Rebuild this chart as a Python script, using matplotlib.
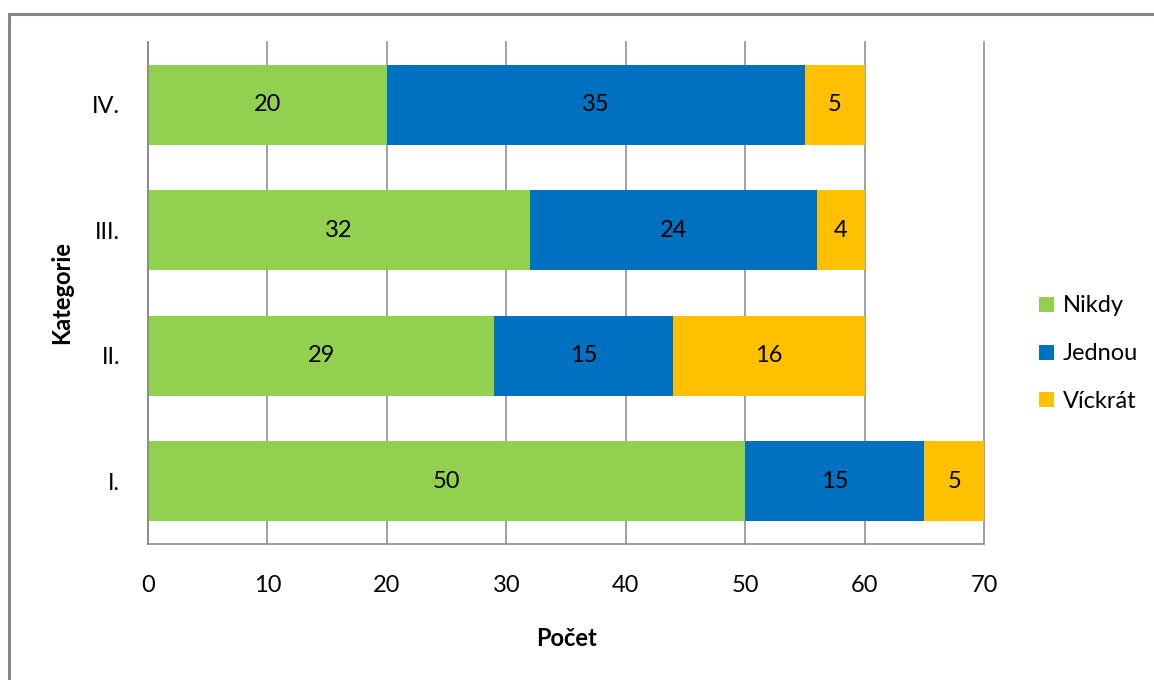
import matplotlib
matplotlib.use("Agg")
import matplotlib.pyplot as plt
from matplotlib.patches import Rectangle, Patch

plt.rcParams['font.family'] = ['Lato', 'DejaVu Sans']

categories = ["I.", "II.", "III.", "IV."]
nikdy = [50, 29, 32, 20]
jednou = [15, 15, 24, 35]
vickrat = [5, 16, 4, 5]
series_names = ["Nikdy", "Jednou", "Víckrát"]
colors = ["#92D050", "#0070C0", "#FFC000"]
x_ticks = [0, 10, 20, 30, 40, 50, 60, 70]

W, H = 1154, 680
FS = 17
fig = plt.figure(figsize=(W / 100, H / 100), dpi=100)
fig.patch.set_facecolor("white")

# chart-area frame (runs off the right and bottom edges)
fig.patches.append(Rectangle((9 / W, -0.05), 1.2, 1 - 14 / H + 0.05,
                             transform=fig.transFigure, fill=False,
                             edgecolor="#868686", linewidth=2.2))

ax = fig.add_axes([148 / W, 1 - 544 / H, (984 - 148) / W, (544 - 42) / H])
grey = "#868686"

y = range(len(categories))
left = [0] * len(categories)
for name, vals, col in zip(series_names, [nikdy, jednou, vickrat], colors):
    bars = ax.barh(y, vals, left=left, height=0.64, color=col, label=name, zorder=2)
    ax.bar_label(bars, labels=[str(v) for v in vals], label_type="center",
                 fontsize=FS, color="black")
    left = [a + b for a, b in zip(left, vals)]

ax.set_xlim(0, 70)
ax.set_ylim(-0.5, 3.5)
ax.set_xticks(x_ticks)
ax.set_xticklabels([str(t) for t in x_ticks])
ax.set_yticks(list(y))
ax.set_yticklabels(categories)
for t in x_ticks:
    ax.axvline(t, color=grey, linewidth=1.1, zorder=1, clip_on=False)

ax.tick_params(axis="x", length=0, pad=22, labelsize=FS)
ax.tick_params(axis="y", length=0, pad=20, labelsize=FS)
for s in ["top", "right"]:
    ax.spines[s].set_visible(False)
for s in ["left", "bottom"]:
    ax.spines[s].set_color(grey)
    ax.spines[s].set_linewidth(1.1)

fig.text(566 / W, 1 - 638 / H, "Počet", ha="center", va="center",
         fontsize=FS, fontweight="bold")
fig.text(62 / W, 1 - 293 / H, "Kategorie", ha="center", va="center",
         rotation=90, fontsize=FS, fontweight="bold")

handles = [Patch(facecolor=c, edgecolor="none") for c in colors]
fig.legend(handles, series_names, loc="upper left",
           bbox_to_anchor=(1030 / W, 1 - 286 / H), frameon=False,
           fontsize=FS, handlelength=0.6, handleheight=0.6,
           handletextpad=0.4, labelspacing=1.14, borderaxespad=0)

fig.savefig("out.png", dpi=100, facecolor="white")
